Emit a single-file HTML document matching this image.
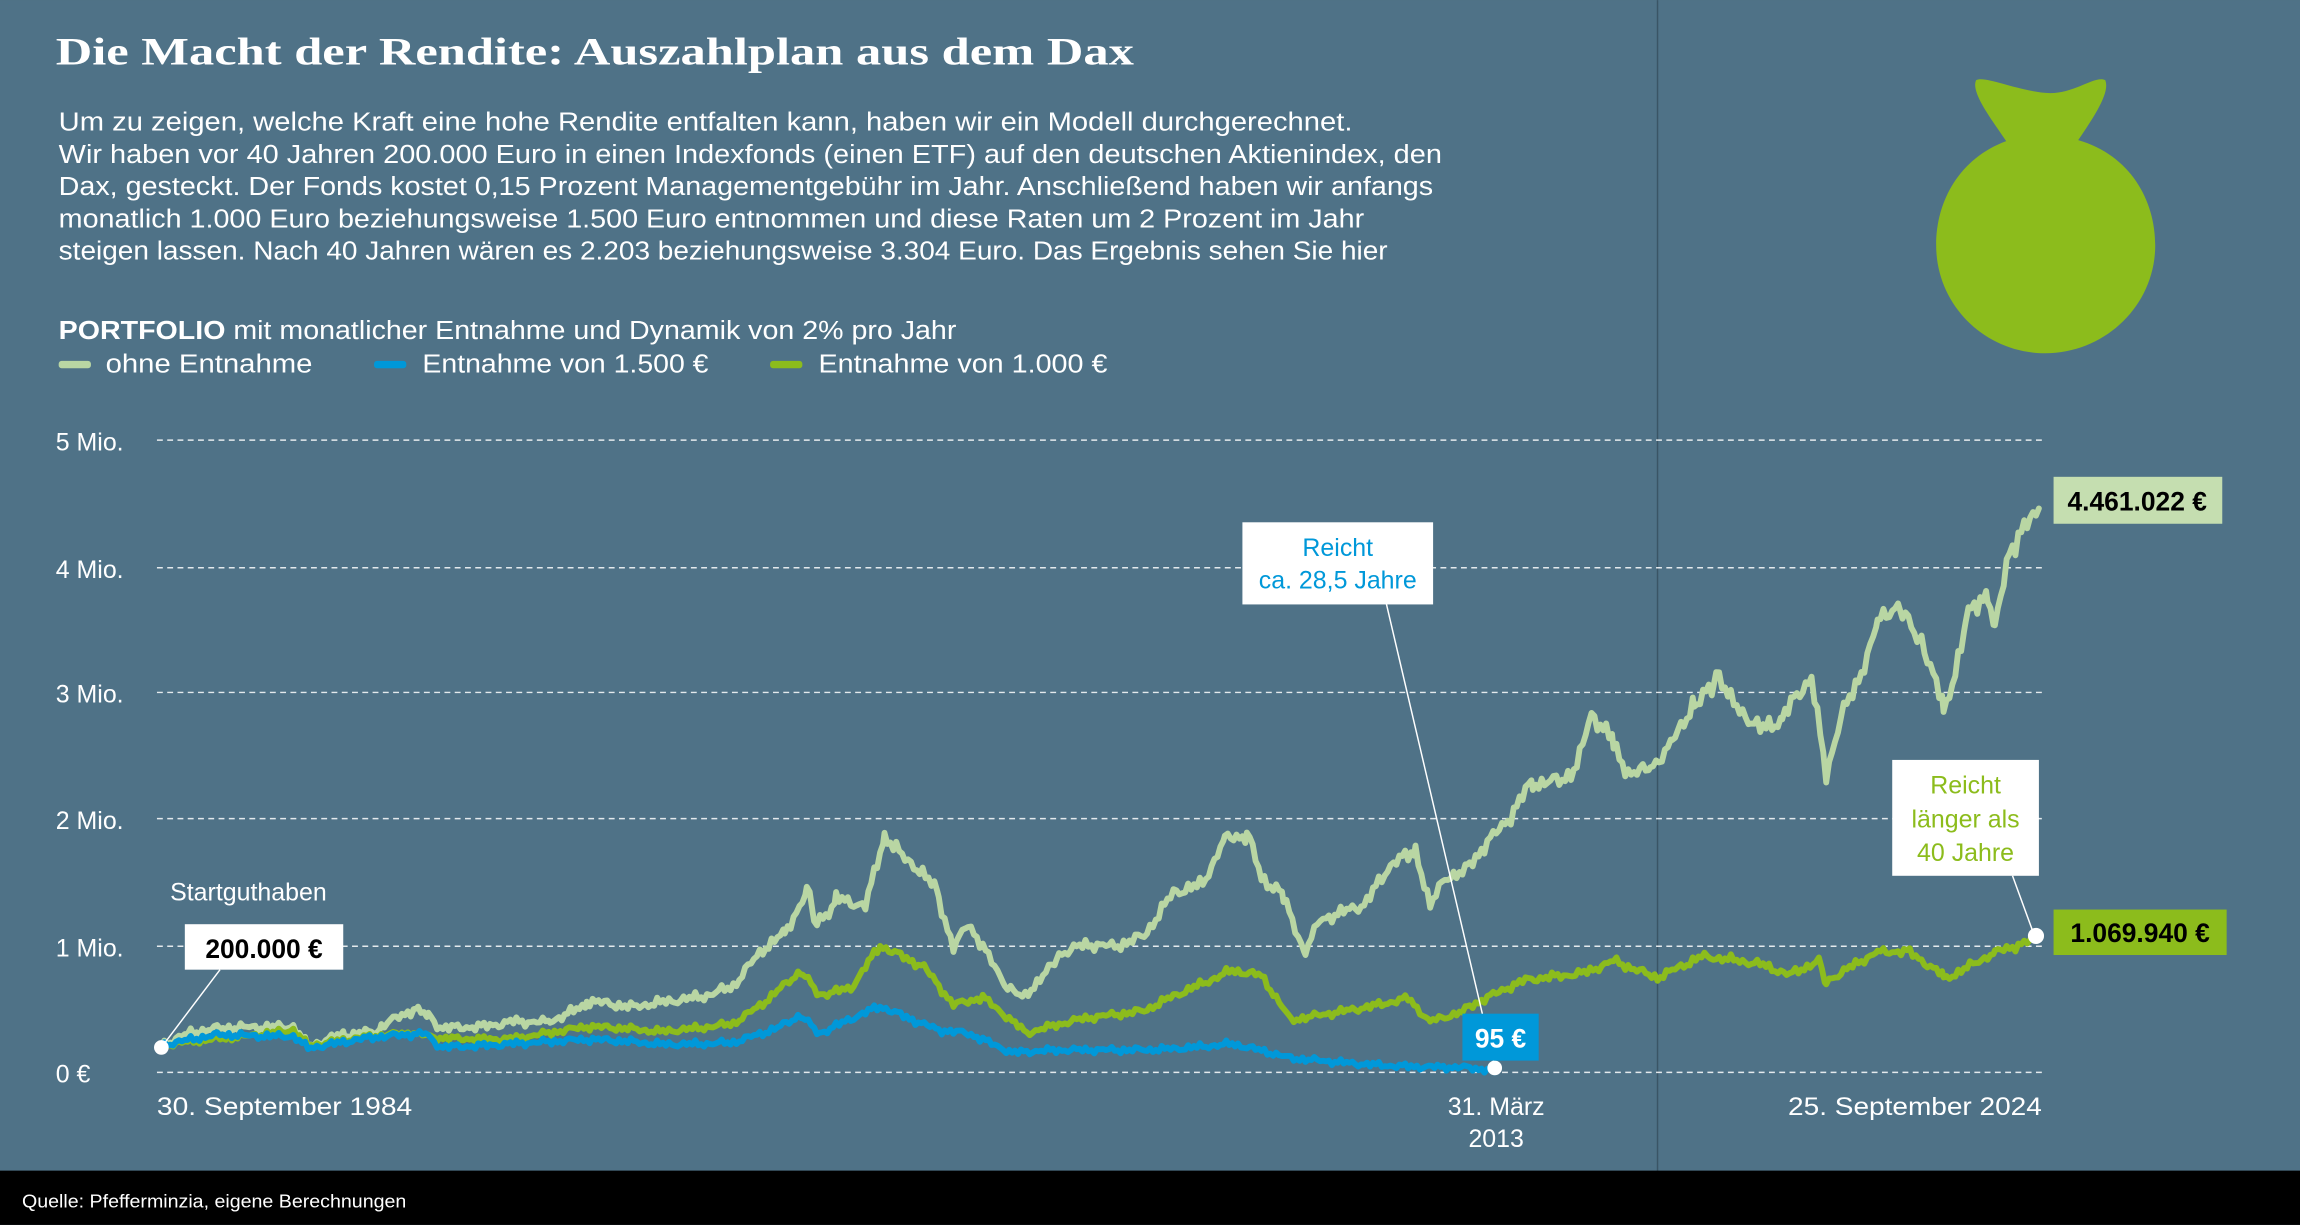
<!DOCTYPE html>
<html><head><meta charset="utf-8"><style>
html,body{margin:0;padding:0;background:#4f7287;}
svg{display:block;}
text{font-family:"Liberation Sans",sans-serif;}
</style></head><body>
<svg id="s" width="2300" height="1225" viewBox="0 0 1568 835" xmlns="http://www.w3.org/2000/svg">
<rect width="1568" height="835" fill="#4f7287"/>
<line x1="1130" y1="0" x2="1130" y2="835" stroke="#3a5566" stroke-width="1"/>
<rect x="0" y="798" width="1568" height="37" fill="#000"/>
<text x="15" y="823" font-size="12.5" fill="#fff" textLength="262" lengthAdjust="spacingAndGlyphs">Quelle: Pfefferminzia, eigene Berechnungen</text>
<text x="38" y="44" font-size="27" font-weight="bold" fill="#fff" style="font-family:'Liberation Serif',serif" textLength="735" lengthAdjust="spacingAndGlyphs">Die Macht der Rendite: Auszahlplan aus dem Dax</text>
<g font-size="17.5" fill="#fff">
<text x="40" y="89" textLength="882" lengthAdjust="spacingAndGlyphs">Um zu zeigen, welche Kraft eine hohe Rendite entfalten kann, haben wir ein Modell durchgerechnet.</text>
<text x="40" y="111" textLength="943" lengthAdjust="spacingAndGlyphs">Wir haben vor 40 Jahren 200.000 Euro in einen Indexfonds (einen ETF) auf den deutschen Aktienindex, den</text>
<text x="40" y="133" textLength="937" lengthAdjust="spacingAndGlyphs">Dax, gesteckt. Der Fonds kostet 0,15 Prozent Managementgebühr im Jahr. Anschließend haben wir anfangs</text>
<text x="40" y="155" textLength="890" lengthAdjust="spacingAndGlyphs">monatlich 1.000 Euro beziehungsweise 1.500 Euro entnommen und diese Raten um 2 Prozent im Jahr</text>
<text x="40" y="177" textLength="906" lengthAdjust="spacingAndGlyphs">steigen lassen. Nach 40 Jahren wären es 2.203 beziehungsweise 3.304 Euro. Das Ergebnis sehen Sie hier</text>
<text x="40" y="231" textLength="612" lengthAdjust="spacingAndGlyphs"><tspan font-weight="bold">PORTFOLIO</tspan> mit monatlicher Entnahme und Dynamik von 2% pro Jahr</text>
<text x="72" y="254" textLength="141" lengthAdjust="spacingAndGlyphs">ohne Entnahme</text>
<text x="288" y="254" textLength="195" lengthAdjust="spacingAndGlyphs">Entnahme von 1.500 €</text>
<text x="558" y="254" textLength="197" lengthAdjust="spacingAndGlyphs">Entnahme von 1.000 €</text>
</g>
<rect x="40" y="246" width="22" height="5" rx="2" fill="#b9d6a3"/>
<rect x="255" y="246" width="22" height="5" rx="2" fill="#0098d9"/>
<rect x="525" y="246" width="22" height="5" rx="2" fill="#8cbc1c"/>
<g transform="translate(1295.4,0) scale(0.682)">
<path d="M76,80 C85,75 120,92 150,93 C175,93 195,75 205,80 C210,92 195,115 178,140 C230,155 255,200 255,245 C255,305 205,353 145,353 C85,353 36,305 36,245 C36,200 60,158 106,141 C92,120 70,92 76,80 Z" fill="#8cbc1c"/>
</g>
<g stroke="#fff" stroke-width="1" stroke-dasharray="4,3" opacity="0.85">
<line x1="107" y1="300" x2="1392" y2="300"/>
<line x1="107" y1="387" x2="1392" y2="387"/>
<line x1="107" y1="472" x2="1392" y2="472"/>
<line x1="107" y1="558" x2="1392" y2="558"/>
<line x1="107" y1="645" x2="1392" y2="645"/>
<line x1="107" y1="731" x2="1392" y2="731"/>
</g>
<g font-size="17" fill="#fff">
<text x="38" y="307">5 Mio.</text>
<text x="38" y="394">4 Mio.</text>
<text x="38" y="479">3 Mio.</text>
<text x="38" y="565">2 Mio.</text>
<text x="38" y="652">1 Mio.</text>
<text x="38" y="738">0 €</text>
<text x="107" y="760" textLength="174" lengthAdjust="spacingAndGlyphs">30. September 1984</text>
<text x="1020" y="760" text-anchor="middle">31. März</text>
<text x="1020" y="782" text-anchor="middle">2013</text>
<text x="1392" y="760" text-anchor="end" textLength="173" lengthAdjust="spacingAndGlyphs">25. September 2024</text>
<text x="116" y="614">Startguthaben</text>
</g>
<g id="series" fill="none" stroke-width="4" stroke-linejoin="round" stroke-linecap="round"></g>
<line x1="150" y1="661" x2="110" y2="714" stroke="#fff" stroke-width="1"/>
<line x1="945" y1="411" x2="1019" y2="727" stroke="#fff" stroke-width="1"/>
<line x1="1372" y1="597" x2="1387" y2="638" stroke="#fff" stroke-width="1"/>
<circle cx="110" cy="714" r="5" fill="#fff"/>
<circle cx="1019" cy="728" r="5" fill="#fff"/>
<circle cx="1388" cy="638" r="5.5" fill="#fff"/>
<rect x="126" y="630" width="108" height="31" fill="#fff"/>
<text x="180" y="653" font-size="18" font-weight="bold" fill="#000" text-anchor="middle">200.000 €</text>
<rect x="1400" y="325" width="115" height="32" fill="#c5deb0"/>
<text x="1457" y="348" font-size="18" font-weight="bold" fill="#000" text-anchor="middle">4.461.022 €</text>
<rect x="1400" y="620" width="118" height="31" fill="#8cbc1c"/>
<text x="1459" y="642" font-size="18" font-weight="bold" fill="#000" text-anchor="middle">1.069.940 €</text>
<rect x="997" y="691" width="52" height="32" fill="#0098d9"/>
<text x="1023" y="714" font-size="18" font-weight="bold" fill="#fff" text-anchor="middle">95 €</text>
<rect x="847" y="356" width="130" height="56" fill="#fff"/>
<text x="912" y="379" font-size="17" fill="#0098d9" text-anchor="middle">Reicht</text>
<text x="912" y="401" font-size="17" fill="#0098d9" text-anchor="middle">ca. 28,5 Jahre</text>
<rect x="1290" y="518" width="100" height="79" fill="#fff"/>
<text x="1340" y="541" font-size="17" fill="#8cbc1c" text-anchor="middle">Reicht</text>
<text x="1340" y="564" font-size="17" fill="#8cbc1c" text-anchor="middle">länger als</text>
<text x="1340" y="587" font-size="17" fill="#8cbc1c" text-anchor="middle">40 Jahre</text>
</svg>
<script>
(function(){
function Y(v){return 731-86.2*v;}
var L=[[110,.2],[130,.3],[150,.35],[170,.37],[200,.38],[210,.22],[235,.3],[260,.35],[285,.5],[292,.45],[300,.35],[330,.38],[350,.42],[375,.4],[400,.55],[430,.5],[450,.55],[480,.62],[500,.7],[510,.85],[520,.98],[535,1.1],[550,1.45],[555,1.2],[570,1.35],[590,1.3],[603,1.87],[615,1.7],[625,1.6],[640,1.4],[650,1.0],[660,1.2],[670,1.0],[685,.7],[697,.6],[720,.9],[740,1.0],[760,1.0],[780,1.1],[800,1.45],[820,1.5],[835,1.85],[850,1.9],[860,1.5],[875,1.4],[890,.95],[900,1.2],[930,1.35],[950,1.7],[965,1.75],[975,1.3],[985,1.55],[1000,1.6],[1030,2.0],[1045,2.3],[1065,2.3],[1075,2.4],[1085,2.8],[1100,2.6],[1110,2.4],[1125,2.4],[1140,2.6],[1155,2.9],[1170,3.15],[1180,2.9],[1200,2.7],[1215,2.8],[1235,3.1],[1245,2.3],[1255,2.8],[1265,3.0],[1280,3.55],[1295,3.7],[1310,3.4],[1325,2.85],[1340,3.55],[1355,3.8],[1360,3.5],[1370,4.15],[1380,4.35],[1390,4.46]];
var G=[[110,.2],[200,.35],[210,.22],[250,.27],[280,.3],[300,.27],[350,.28],[400,.35],[450,.32],[500,.4],[520,.55],[547,.8],[560,.6],[580,.65],[600,1.0],[630,.85],[650,.55],[670,.6],[700,.3],[740,.42],[780,.5],[800,.62],[840,.8],[860,.75],[880,.4],[900,.45],[960,.6],[975,.4],[1000,.5],[1040,.72],[1080,.8],[1100,.9],[1130,.75],[1160,.9],[1200,.85],[1220,.78],[1240,.9],[1245,.7],[1280,.95],[1300,.95],[1325,.75],[1360,.95],[1388,1.07]];
var B=[[110,.2],[150,.3],[200,.3],[210,.2],[250,.26],[290,.3],[300,.2],[350,.24],[400,.25],[450,.22],[500,.25],[530,.35],[547,.45],[560,.3],[600,.52],[640,.35],[660,.32],[690,.15],[740,.17],[800,.2],[840,.22],[880,.1],[940,.07],[1000,.03],[1019,0]];
function path(pts,amp){var d="";for(var i=0;i<pts.length-1;i++){var a=pts[i],b=pts[i+1];for(var x=a[0];x<b[0];x+=2){var t=(x-a[0])/(b[0]-a[0]);var v=a[1]+(b[1]-a[1])*t;var n=(Math.sin(x*1.7)+Math.sin(x*0.73+1)*0.8+Math.sin(x*3.1)+Math.sin(x*0.31)*0.7)*amp*(0.3+v*0.15);d+=(d?"L":"M")+x.toFixed(1)+","+Y(v+n).toFixed(1);}}var e=pts[pts.length-1];d+="L"+e[0]+","+Y(e[1]);return d;}
var g=document.getElementById("series");
function add(p,c,a){var el=document.createElementNS("http://www.w3.org/2000/svg","path");el.setAttribute("d",path(p,a));el.setAttribute("stroke",c);g.appendChild(el);}
add(L,"#b9d6a3",0.05);add(G,"#8cbc1c",0.04);add(B,"#0098d9",0.04);
})();
</script>
</body></html>
